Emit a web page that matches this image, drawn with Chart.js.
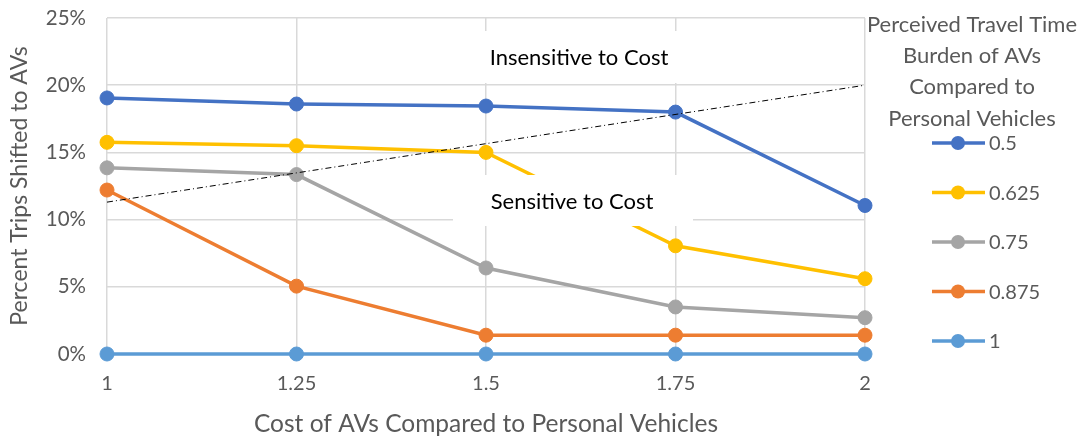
<!DOCTYPE html>
<html>
<head>
<meta charset="utf-8">
<script src="https://cdn.jsdelivr.net/npm/chart.js@4.4.0/dist/chart.umd.min.js"></script>
<style>
  html, body { margin: 0; padding: 0; background: #fff; }
  canvas { display: block; }
</style>
</head>
<body>
<canvas id="myChart" width="1086" height="444"></canvas>
<script>
// cost ratio of AVs vs personal vehicles
const costLabels = ["1", "1.25", "1.5", "1.75", "2"];

// percent of trips shifted, one array per travel time burden
const burden050 = [19.05, 18.6, 18.45, 18.0, 11.05];
const burden0625 = [15.75, 15.5, 15.0, 8.05, 5.6];
const burden075 = [13.85, 13.35, 6.4, 3.5, 2.7];
const burden0875 = [12.2, 5.05, 1.4, 1.4, 1.4];
const burden100 = [0, 0, 0, 0, 0];

// cost sensitivity divider
const dividerLine = [11.3, null, null, null, 20];

const burdenLabels = ["0.5", "0.625", "0.75", "0.875", "1"];
const yTicks = [0, 5, 10, 15, 20, 25];

const colors = ["#4472C4", "#FFC000", "#A5A5A5", "#ED7D31", "#5B9BD5"];
const textGray = "#595959";
const FONT = "Lato, 'Open Sans', sans-serif";

const series = [burden050, burden0625, burden075, burden0875, burden100];

const lineSet = (data, i) => ({
  label: burdenLabels[i],
  data,
  borderColor: colors[i],
  backgroundColor: colors[i],
  borderWidth: 3.5,
  pointRadius: 7,
  pointBorderWidth: 1,
  pointBorderColor: colors[i],
  pointBackgroundColor: colors[i],
  tension: 0,
  clip: false,
  order: 5 - i + 1
});

// white label boxes on the plot
const noteBoxes = [
  { text: "Insensitive to Cost", x: 455, y: 31, w: 250, h: 52 },
  { text: "Sensitive to Cost", x: 453, y: 175, w: 240, h: 51 }
];

const notesPlugin = {
  id: "notes",
  afterDatasetsDraw(chart) {
    const ctx = chart.ctx;
    ctx.save();
    noteBoxes.forEach(b => {
      ctx.fillStyle = "#ffffff";
      ctx.fillRect(b.x, b.y, b.w, b.h);
      ctx.fillStyle = "#000000";
      ctx.font = "22px " + FONT;
      ctx.textAlign = "center";
      ctx.textBaseline = "middle";
      ctx.fillText(b.text, b.x + b.w / 2 - 1, b.y + b.h / 2 + 1);
    });
    ctx.restore();
  }
};

const legendPlugin = {
  id: "sideLegend",
  afterDraw(chart) {
    const ctx = chart.ctx;
    ctx.save();
    ctx.fillStyle = textGray;
    ctx.font = "22px " + FONT;
    ctx.textAlign = "center";
    ctx.textBaseline = "middle";
    const title = ["Perceived Travel Time", "Burden of AVs", "Compared to", "Personal Vehicles"];
    title.forEach((t, i) => ctx.fillText(t, 972, 25 + i * 31.2));

    ctx.font = "20px " + FONT;
    burdenLabels.forEach((lab, i) => {
      const y = 143 + i * 49.5;
      ctx.strokeStyle = colors[i];
      ctx.lineWidth = 3.5;
      ctx.beginPath();
      ctx.moveTo(932, y);
      ctx.lineTo(985, y);
      ctx.stroke();
      ctx.fillStyle = colors[i];
      ctx.beginPath();
      ctx.arc(958, y, 7, 0, Math.PI * 2);
      ctx.fill();
      ctx.fillStyle = textGray;
      ctx.textAlign = "left";
      ctx.fillText(lab, 989, y + 1);
    });
    ctx.restore();
  }
};

const datasets = series.map(lineSet);
datasets.push({
  label: "divider",
  data: dividerLine,
  borderColor: "#000000",
  borderWidth: 1,
  borderDash: [6, 3, 1, 3],
  pointRadius: 0,
  spanGaps: true,
  order: 0
});

new Chart(document.getElementById("myChart"), {
  type: "line",
  data: { labels: costLabels, datasets },
  options: {
    responsive: false,
    animation: false,
    layout: { padding: { top: 18, right: 221, left: 0, bottom: 0 } },
    plugins: {
      legend: { display: false },
      tooltip: { enabled: false }
    },
    scales: {
      x: {
        grid: { color: "#D9D9D9", lineWidth: 1.5, drawTicks: false },
        border: { display: false },
        ticks: { color: textGray, font: { family: FONT, size: 20 }, padding: 18, maxRotation: 0 },
        title: {
          display: true,
          text: "Cost of AVs Compared to Personal Vehicles",
          color: textGray,
          font: { family: FONT, size: 24.5 },
          padding: { top: 4, bottom: 5 }
        },
        afterFit: s => { s.height = 90; s.paddingLeft = 0; s.paddingRight = 0; }
      },
      y: {
        min: 0,
        max: 25,
        afterBuildTicks: s => { s.ticks = yTicks.map(v => ({ value: v })); },
        grid: { color: "#D9D9D9", lineWidth: 1.5, drawTicks: false },
        border: { display: false },
        ticks: {
          color: textGray,
          font: { family: FONT, size: 20.5 },
          padding: 21,
          callback: v => v + "%"
        },
        title: {
          display: true,
          text: "Percent Trips Shifted to AVs",
          color: textGray,
          font: { family: FONT, size: 23 },
          padding: { top: 6, bottom: 4 }
        },
        afterFit: s => { s.width = 107; s.paddingTop = 0; s.paddingBottom = 0; }
      }
    }
  },
  plugins: [notesPlugin, legendPlugin]
});
</script>
</body>
</html>
